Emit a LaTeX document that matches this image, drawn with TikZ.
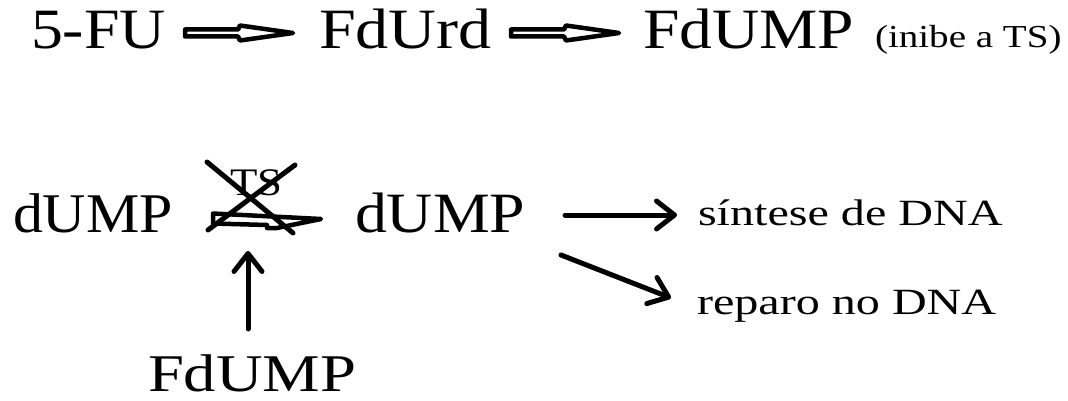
\documentclass[tikz,border=0pt]{standalone}
\usepackage{fontspec}
\usepackage{graphicx}
\setmainfont{Liberation Serif}
\usetikzlibrary{arrows.meta}
\newcommand{\stxt}[3]{\scalebox{#1}[1]{\fontsize{#2pt}{#2pt}\selectfont #3}}
\tikzset{
  lbl/.style={anchor=base west, inner sep=0pt, outer sep=0pt},
  hollow/.style={line width=4.5pt, line join=round, fill=white},
  plain/.style={line width=5pt, line cap=round, -{Straight Barb[length=18pt,width=28pt,line cap=round,line join=round]}},
  cross/.style={line width=5pt, line cap=round}
}
\begin{document}
\begin{tikzpicture}[x=1pt,y=-1pt]
\useasboundingbox (0,0) rectangle (1068,401);
% top row
\node[lbl] (fu) at (31,49) {\stxt{1.12}{57}{5-FU}};
\node[lbl] (fdurd) at (319,49) {\stxt{1.16}{57}{FdUrd}};
\node[lbl] (fdumpA) at (643,49) {\stxt{1.15}{57}{FdUMP}};
\node[lbl] (inibe) at (875,48) {\stxt{1.22}{32}{(inibe a TS)}};
% hollow arrows top row
\coordinate (a1s) at (185,33);
\coordinate (a1e) at (293,33);
\draw[hollow] (a1s) ++(0,-3.5) -- ++(53,0) -- ++(2,-4) -- (a1e) -- ++(-53,7.5) -- ++(-2,-4) -- ++(-53,0) -- cycle;
\coordinate (a2s) at (511,33);
\coordinate (a2e) at (619,33);
\draw[hollow] (a2s) ++(0,-3.5) -- ++(53,0) -- ++(2,-4) -- (a2e) -- ++(-53,7.5) -- ++(-2,-4) -- ++(-53,0) -- cycle;
% bottom row
\node[lbl] (dumpA) at (13,232) {\stxt{1.07}{56}{dUMP}};
\node[lbl] (dumpB) at (355,232) {\stxt{1.12}{57}{dUMP}};
\node[lbl] (ts) at (230,195) {\stxt{1.15}{39}{TS}};
\node[lbl] (sint) at (698,225) {\stxt{1.3}{37}{síntese de DNA}};
\node[lbl] (rep) at (697,314) {\stxt{1.3}{37}{reparo no DNA}};
\node[lbl] (fdumpB) at (148,391) {\stxt{1.22}{53}{FdUMP}};
% crossed hollow arrow
\coordinate (cs) at (213,218);
\coordinate (ce) at (321,219);
\draw[hollow] (cs) ++(0,-4.5) -- (ce) -- (277,228) -- (267,228) -- (267,225) -- (213,223.5) -- cycle;
\draw[cross] (207,162) -- (293,233);
\draw[cross] (295,165) -- (208,230);
% plain arrows
\coordinate (p1s) at (565,215);
\coordinate (p1e) at (677,215);
\draw[plain] (p1s) -- (p1e);
\coordinate (p2s) at (561,255);
\coordinate (p2e) at (671,298);
\draw[plain] (p2s) -- (p2e);
\coordinate (p3s) at (248,329);
\coordinate (p3e) at (248,251);
\draw[plain] (p3s) -- (p3e);
\end{tikzpicture}
\end{document}
